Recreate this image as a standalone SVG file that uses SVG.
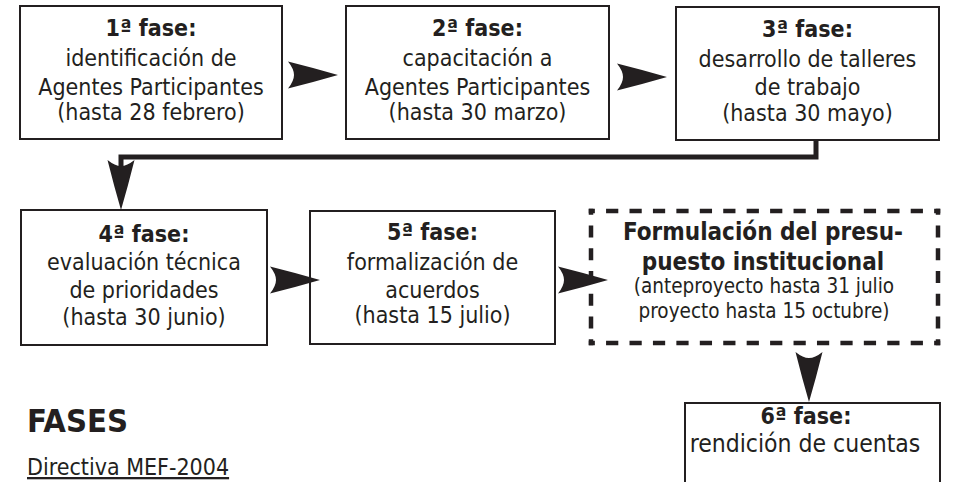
<svg xmlns="http://www.w3.org/2000/svg" xmlns:xlink="http://www.w3.org/1999/xlink" width="953" height="482" viewBox="0 0 953 482">
  <style>
    .box { fill: #ffffff; stroke: #231f20; stroke-width: 2; }
    .dash { fill: none; stroke: #231f20; stroke-width: 4.5; stroke-dasharray: 12 11; stroke-dashoffset: 6; }
    .t { font-family: "DejaVu Sans Condensed", "DejaVu Sans", sans-serif; font-stretch: condensed; font-size: 23px; fill: #231f20; text-anchor: middle; }
    .b { font-weight: bold; }
    .s { font-size: 20.5px; }
    .link { fill: none; stroke: #231f20; stroke-width: 5; }
    .head { fill: #231f20; }
  </style>
  <defs>
    <!-- notched arrowhead, tip at origin pointing along +x -->
    <path id="arrowhead" class="head" d="M0,0 Q-24,-7 -50,-13.5 Q-44,-6 -44,0 Q-44,6 -50,13.5 Q-24,7 0,0 Z"/>
  </defs>

  <g id="fase1">
    <rect class="box" x="20" y="6" width="262" height="133"/>
    <text class="t b" x="151" y="36">1ª fase:</text>
    <text class="t" x="151" y="66">identificación de</text>
    <text class="t" x="151" y="95">Agentes Participantes</text>
    <text class="t" x="151" y="120">(hasta 28 febrero)</text>
  </g>

  <g id="fase2">
    <rect class="box" x="346" y="6" width="263" height="133"/>
    <text class="t b" x="477.5" y="36">2ª fase:</text>
    <text class="t" x="477.5" y="66">capacitación a</text>
    <text class="t" x="477.5" y="95">Agentes Participantes</text>
    <text class="t" x="477.5" y="120">(hasta 30 marzo)</text>
  </g>

  <g id="fase3">
    <rect class="box" x="676" y="7" width="263" height="133"/>
    <text class="t b" x="807.5" y="37">3ª fase:</text>
    <text class="t" x="807.5" y="67">desarrollo de talleres</text>
    <text class="t" x="807.5" y="95">de trabajo</text>
    <text class="t" x="807.5" y="121">(hasta 30 mayo)</text>
  </g>

  <g id="fase4">
    <rect class="box" x="21" y="210" width="246" height="135"/>
    <text class="t b" x="144" y="242">4ª fase:</text>
    <text class="t" x="144" y="270">evaluación técnica</text>
    <text class="t" x="144" y="298">de prioridades</text>
    <text class="t" x="144" y="325">(hasta 30 junio)</text>
  </g>

  <g id="fase5">
    <rect class="box" x="310" y="211" width="245" height="133"/>
    <text class="t b" x="432.5" y="240">5ª fase:</text>
    <text class="t" x="432.5" y="270">formalización de</text>
    <text class="t" x="432.5" y="298">acuerdos</text>
    <text class="t" x="432.5" y="323">(hasta 15 julio)</text>
  </g>

  <g id="formulacion">
    <line class="dash" x1="588.75" y1="211" x2="940.25" y2="211" pathLength="345"/>
    <line class="dash" x1="588.75" y1="343" x2="940.25" y2="343" pathLength="345"/>
    <line class="dash" x1="591" y1="208.75" x2="591" y2="345.25" pathLength="138"/>
    <line class="dash" x1="938" y1="208.75" x2="938" y2="345.25" pathLength="138"/>
    <text class="t b" x="763" y="240" style="font-size:24px">Formulación del presu-</text>
    <text class="t b" x="763" y="270" style="font-size:24px">puesto institucional</text>
    <text class="t s" x="764" y="293">(anteproyecto hasta 31 julio</text>
    <text class="t s" x="764" y="318">proyecto hasta 15 octubre)</text>
  </g>

  <g id="fase6">
    <rect class="box" x="685" y="403" width="255" height="100"/>
    <text class="t b" x="806" y="424">6ª fase:</text>
    <text class="t" x="805" y="452" style="font-size:24.5px">rendición de cuentas</text>
  </g>

  <g id="titulo">
    <text class="t b" x="27" y="432" style="font-size:32.5px;text-anchor:start">FASES</text>
    <text class="t" x="27" y="475" style="text-anchor:start;text-decoration:underline">Directiva MEF-2004</text>
  </g>

  <g id="connectors">
    <use xlink:href="#arrowhead" transform="translate(338,75)"/>
    <use xlink:href="#arrowhead" transform="translate(667,77)"/>
    <path class="link" d="M816,139 V157 H121 V172"/>
    <use xlink:href="#arrowhead" transform="translate(121,210) rotate(90)"/>
    <use xlink:href="#arrowhead" transform="translate(320,280)"/>
    <use xlink:href="#arrowhead" transform="translate(608,280)"/>
    <use xlink:href="#arrowhead" transform="translate(809,402) rotate(90)"/>
  </g>
</svg>
